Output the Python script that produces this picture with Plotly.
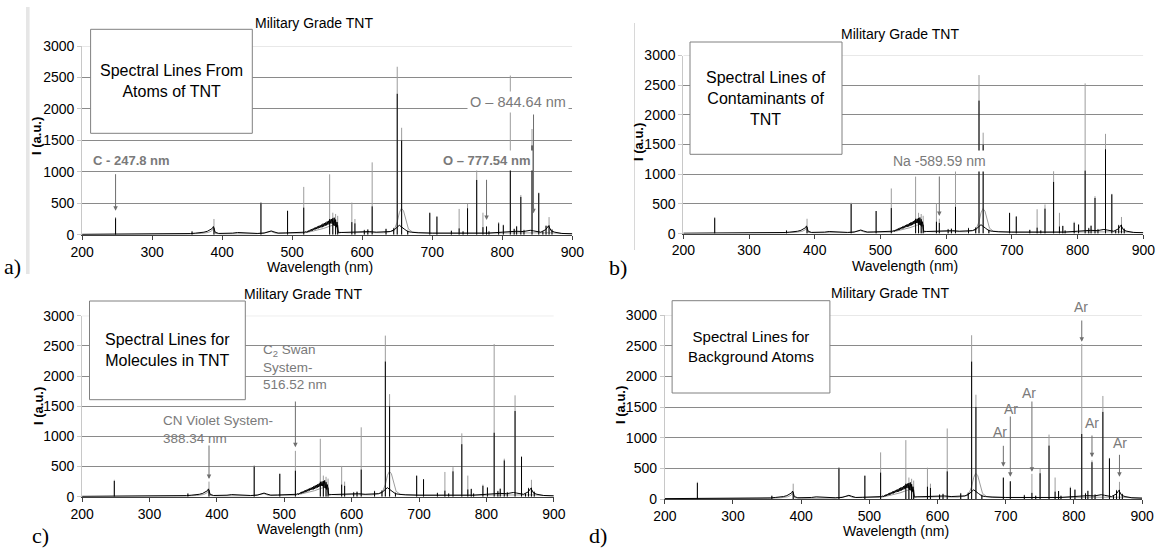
import plotly.graph_objects as go

# ---------------- data ----------------
wavelength_ticks = [200, 300, 400, 500, 600, 700, 800, 900]
intensity_ticks = [0, 500, 1000, 1500, 2000, 2500, 3000]

# emission lines (nm) with peak heights for the two overlaid spectra
line_nm = [247.8, 357.0, 388.3, 455.4, 493.4, 516.5, 553.5, 558.0, 562.0, 565.0,
           585.2, 589.6, 603.0, 608.0, 614.2, 634.0, 645.0, 650.0, 656.3, 665.0,
           696.5, 706.7, 727.3, 738.4, 744.0, 750.4, 763.5, 772.4, 777.5, 781.0,
           794.8, 801.5, 811.5, 817.0, 820.5, 826.5, 831.0, 842.5, 852.1, 858.0,
           862.5, 866.8, 871.0]
gray_peak = [280, 60, 250, 520, 380, 760, 960, 350, 330, 300,
             510, 250, 80, 90, 1150, 100, 110, 2670, 1700, 80,
             340, 280, 70, 410, 60, 490, 1050, 350, 130, 60,
             200, 160, 2530, 100, 140, 630, 80, 1680, 670, 60,
             150, 280, 90]
black_peak = [260, 50, 110, 500, 380, 430, 250, 220, 200, 150,
              200, 180, 70, 80, 450, 90, 100, 2240, 1500, 60,
              350, 290, 60, 100, 50, 420, 870, 120, 130, 50,
              180, 150, 1060, 90, 130, 600, 70, 1420, 660, 50,
              140, 150, 80]

# continuum / band structure of the black spectrum
black_cont_nm = [200, 215, 230, 250, 270, 290, 310, 330, 345, 355, 362, 368, 374, 379, 383, 386,
                 387.5, 390, 395, 405, 415, 422, 430, 440, 450, 460, 466, 470, 474, 480, 490,
                 500, 510, 515,
                 518, 520, 521, 522, 523, 524, 525, 526, 527, 528, 529, 530, 531, 532, 533, 534,
                 535, 536, 537, 538, 539, 540, 541, 542, 543, 544, 545, 546, 547, 548, 549, 550,
                 551, 552, 553, 554, 555, 556, 557, 558, 559, 560, 561, 562, 563, 564, 565, 566,
                 570, 580, 590, 600, 610, 620, 630, 640, 646, 650, 653, 660, 665, 670, 680, 700,
                 720, 740, 760, 780, 800, 810, 820, 830, 840, 845, 855, 862, 866, 870, 875, 885, 900]
black_cont_val = [6, 6, 8, 8, 9, 10, 10, 12, 14, 18, 25, 30, 40, 55, 75, 100,
                  130, 40, 20, 18, 25, 35, 28, 22, 20, 25, 45, 60, 45, 25, 28,
                  30, 28, 35,
                  40, 50, 35, 60, 45, 70, 50, 80, 60, 90, 65, 100, 75, 110, 85, 120,
                  90, 130, 100, 140, 110, 150, 115, 160, 120, 175, 130, 185, 140, 195, 150, 210,
                  160, 220, 170, 240, 180, 250, 175, 260, 150, 270, 140, 240, 120, 200, 60, 30,
                  35, 40, 45, 55, 50, 40, 40, 50, 80, 120, 150, 90, 50, 40, 30, 25,
                  25, 30, 30, 25, 40, 50, 55, 50, 70, 60, 40, 80, 140, 60, 40, 20, 15]

# continuum of the gray spectrum
gray_cont_nm = [200, 250, 300, 350, 370, 380, 385, 387, 390, 400, 450, 465, 470, 476, 500,
                515, 525, 535, 545, 555, 562, 566, 580, 600, 630, 645, 650, 653, 656, 659,
                662, 666, 672, 700, 750, 800, 850, 870, 900]
gray_cont_val = [3, 4, 5, 10, 20, 35, 60, 90, 20, 12, 15, 35, 50, 25, 20,
                 25, 45, 70, 100, 140, 160, 40, 30, 35, 30, 60, 200, 350, 420, 380,
                 250, 90, 40, 25, 25, 30, 35, 30, 10]

# annotated lines
arrows_a = [247.8, 777.54, 844.64]
arrows_b = [589.59]
arrows_c = [516.52, 388.34]
arrows_d = [696.5, 706.7, 738.4, 811.5, 826.5, 866.8]

# ---------------- layout helpers ----------------
W, H = 1158, 548
def X(px): return px / W
def Y(py): return 1 - py / H

FONT = "Arial, Liberation Sans, sans-serif"
LABEL_GRAY = "#7a7a7a"

panels = {
    "a": dict(x0=82.1, x1=572.3, ytop=46.0, ybot=234.7, ax=""),
    "b": dict(x0=683.3, x1=1143.3, ytop=55.5, ybot=233.6, ax="2"),
    "c": dict(x0=82.1, x1=553.8, ytop=315.7, ybot=496.7, ax="3"),
    "d": dict(x0=664.8, x1=1142.1, ytop=315.0, ybot=499.0, ax="4"),
}

def build(nm_cont, val_cont, nm_lines, peaks):
    xs = list(nm_cont) + [None]
    ys = list(val_cont) + [None]
    for w, p in zip(nm_lines, peaks):
        xs += [w, w, None]
        ys += [0, p, None]
    return xs, ys

gx, gy = build(gray_cont_nm, gray_cont_val, line_nm, gray_peak)
bx, by = build(black_cont_nm, black_cont_val, line_nm, black_peak)

fig = go.Figure()
layout = dict(template="none", width=W, height=H, autosize=False,
              margin=dict(l=0, r=0, t=0, b=0, pad=0),
              paper_bgcolor="white", plot_bgcolor="white", showlegend=False,
              hovermode=False,
              font=dict(family=FONT, size=14, color="black"))
shapes = []
annotations = []

for key, p in panels.items():
    s = p["ax"]
    fig.add_trace(go.Scatter(x=gx, y=gy, mode="lines", line=dict(color="#9c9c9c", width=1),
                             xaxis="x" + s, yaxis="y" + s, hoverinfo="skip"))
    fig.add_trace(go.Scatter(x=bx, y=by, mode="lines", line=dict(color="#000000", width=1),
                             xaxis="x" + s, yaxis="y" + s, hoverinfo="skip"))
    layout["xaxis" + s] = dict(domain=[X(p["x0"]), X(p["x1"])], range=[200, 900],
                               tickvals=wavelength_ticks, showline=True, linecolor="#404040",
                               ticks="outside", ticklen=4, tickcolor="#404040",
                               showgrid=False, zeroline=False, anchor="y" + s,
                               automargin=False, tickfont=dict(size=14))
    layout["yaxis" + s] = dict(domain=[Y(p["ybot"]), Y(p["ytop"])], range=[0, 3000],
                               tickvals=intensity_ticks, showgrid=True, gridcolor="#8a8a8a",
                               gridwidth=1, showline=True, linecolor="#c8c8c8",
                               ticks="outside", ticklen=4, tickcolor="#c8c8c8",
                               zeroline=False, anchor="x" + s, automargin=False,
                               tickfont=dict(size=14))
    # lighter top border line at 3000
    shapes.append(dict(type="line", xref="x" + s, yref="y" + s, x0=200, x1=900, y0=3000, y1=3000,
                       line=dict(color="#d2d2d2", width=1), layer="between"))

# titles / axis labels / panel letters
titles = {"a": (313.7, 23), "b": (900, 34.3), "c": (303.4, 294), "d": (889.6, 293)}
ylabs = {"a": (36, 136), "b": (639, 142), "c": (38, 406), "d": (620, 405)}
xlabs = {"a": (319.5, 267), "b": (905, 266), "c": (310, 529), "d": (895.7, 531)}
letters = {"a": (12, 266), "b": (618, 267), "c": (40, 535), "d": (598, 535)}
for k in panels:
    tx, ty = titles[k]
    annotations.append(dict(xref="paper", yref="paper", x=X(tx), y=Y(ty), text="Military Grade TNT",
                            showarrow=False, font=dict(size=14), xanchor="center", yanchor="middle"))
    lx, ly = ylabs[k]
    annotations.append(dict(xref="paper", yref="paper", x=X(lx), y=Y(ly), text="<b>I (a.u.)</b>",
                            textangle=-90, showarrow=False, font=dict(size=13),
                            xanchor="center", yanchor="middle"))
    wx, wy = xlabs[k]
    annotations.append(dict(xref="paper", yref="paper", x=X(wx), y=Y(wy), text="Wavelength (nm)",
                            showarrow=False, font=dict(size=14), xanchor="center", yanchor="middle"))
    cx, cy = letters[k]
    annotations.append(dict(xref="paper", yref="paper", x=X(cx), y=Y(cy), text=k + ")",
                            showarrow=False, font=dict(size=22, family="Liberation Serif, Times New Roman, serif"),
                            xanchor="center", yanchor="middle"))

# boxes
boxes = {
    "a": ((90.6, 29.3, 252.3, 133.3), "Spectral Lines From<br>Atoms of TNT", 16),
    "b": ((690, 42, 842, 154.3), "Spectral Lines of<br>Contaminants of<br>TNT", 16),
    "c": ((89.5, 301, 245.3, 399.7), "Spectral Lines for<br>Molecules in TNT", 16),
    "d": ((672.1, 300.7, 829.9, 393), "Spectral Lines for<br>Background Atoms", 15),
}
for k, ((x0, y0, x1, y1), txt, fs) in boxes.items():
    shapes.append(dict(type="rect", xref="paper", yref="paper", x0=X(x0), x1=X(x1), y0=Y(y1), y1=Y(y0),
                       fillcolor="white", line=dict(color="#808080", width=1), layer="above"))
    annotations.append(dict(xref="paper", yref="paper", x=X((x0 + x1) / 2), y=Y((y0 + y1) / 2),
                            text=txt, showarrow=False, font=dict(size=fs), align="center",
                            xanchor="center", yanchor="middle"))

# image border artifacts
shapes.append(dict(type="rect", xref="paper", yref="paper", x0=X(26), x1=X(29.6), y0=Y(274), y1=Y(7),
                   fillcolor="#e6e6e6", line=dict(width=0), layer="above"))
shapes.append(dict(type="line", xref="paper", yref="paper", x0=X(634.5), x1=X(634.5), y0=Y(250), y1=Y(23),
                   line=dict(color="#d8d8d8", width=1), layer="above"))

def arrow(axis, wl, tail_py, tip_py):
    return dict(xref=axis, yref="paper", x=wl, y=Y(tip_py), ax=0, ay=-(tip_py - tail_py),
                axref="pixel", ayref="pixel", text="", showarrow=True, arrowhead=2,
                arrowsize=0.9, arrowwidth=1, arrowcolor="#6e6e6e", standoff=0)

def label(px, py, txt, size=14, anchor="left", bg=None, bold=False):
    d = dict(xref="paper", yref="paper", x=X(px), y=Y(py),
             text=("<b>%s</b>" % txt) if bold else txt, showarrow=False,
             font=dict(size=size, color=LABEL_GRAY), xanchor=anchor, yanchor="middle", align="left")
    if bg:
        d["bgcolor"] = bg
        d["borderpad"] = 2
    return d

# panel a
annotations.append(arrow("x", arrows_a[0], 172.7, 210.7))
annotations.append(arrow("x", arrows_a[2], 113, 213.3))
annotations.append(arrow("x", arrows_a[1], 178.3, 220))
annotations.append(label(90.6, 160, "C - 247.8 nm", 13, bold=True))
annotations.append(label(467, 101.7, "O \u2013 844.64 nm", 14.5, bg="white"))
annotations.append(label(439.5, 160, "O \u2013 777.54 nm", 13, bg="white", bold=True))
# panel b
annotations.append(arrow("x2", arrows_b[0], 175, 216))
annotations.append(label(889.6, 160.7, "Na -589.59 nm", 14, bg="white"))
# panel c
annotations.append(arrow("x3", arrows_c[0], 400, 447.3))
annotations.append(arrow("x3", arrows_c[1], 444, 479))
annotations.append(label(260.8, 367.3, "C<sub>2</sub> Swan<br>System-<br>516.52 nm", 13.5))
annotations.append(label(161, 429.5, "CN Violet System-<br>388.34 nm", 13.5))
# panel d
ar_tails_tips = [(444.3, 466.7), (415, 476.7), (400, 471.7), (319, 341.7), (434, 457.3), (453.3, 476.7)]
ar_text_pos = [(1000, 431.7), (1010.7, 409), (1029.3, 393.3), (1081.3, 307.3), (1091.7, 422.7), (1120, 442.7)]
for wl, (tl, tp), (tx, ty) in zip(arrows_d, ar_tails_tips, ar_text_pos):
    annotations.append(arrow("x4", wl, tl, tp))
    annotations.append(label(tx, ty, "Ar", 14, anchor="center"))

layout["shapes"] = shapes
layout["annotations"] = annotations
fig.update_layout(**layout)
fig.write_html("out.html", config={"displayModeBar": False, "staticPlot": True},
               post_script="document.body.style.margin='0';document.body.style.overflow='hidden';")
